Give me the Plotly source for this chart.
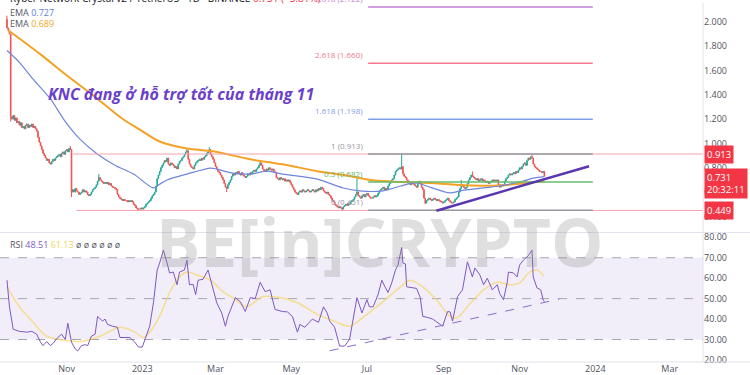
import pandas as pd
import plotly.graph_objects as go

# ---------------- data ----------------
START = "2022-09-14"          # date of first daily candle
FIRST_OPEN = 2.02

close = [
    1.95, 1.93, 1.90, 1.22, 1.20, 1.23, 1.19, 1.21, 1.17, 1.18,
    1.15, 1.17, 1.13, 1.14, 1.12, 1.15, 1.16, 1.13, 1.15, 1.14,
    1.16, 1.13, 1.14, 1.12, 1.10, 1.05, 1.01, 0.98, 0.95, 0.92,
    0.90, 0.88, 0.86, 0.87, 0.84, 0.83, 0.85, 0.87, 0.86, 0.88,
    0.89, 0.90, 0.91, 0.89, 0.92, 0.93, 0.91, 0.94, 0.95, 0.93,
    0.96, 0.95, 0.60, 0.62, 0.60, 0.63, 0.61, 0.60, 0.58, 0.59,
    0.60, 0.62, 0.60, 0.61, 0.60, 0.58, 0.57, 0.58, 0.60, 0.62,
    0.63, 0.64, 0.66, 0.69, 0.72, 0.70, 0.69, 0.68, 0.67, 0.68,
    0.67, 0.68, 0.66, 0.67, 0.65, 0.64, 0.64, 0.63, 0.62, 0.58,
    0.56, 0.55, 0.54, 0.53, 0.54, 0.53, 0.53, 0.52, 0.53, 0.52,
    0.53, 0.52, 0.50, 0.49, 0.47, 0.46, 0.46, 0.46, 0.47, 0.46,
    0.47, 0.48, 0.50, 0.51, 0.52, 0.53, 0.55, 0.57, 0.58, 0.60,
    0.65, 0.71, 0.74, 0.77, 0.80, 0.82, 0.84, 0.86, 0.85, 0.88,
    0.83, 0.82, 0.84, 0.83, 0.82, 0.80, 0.81, 0.79, 0.83, 0.85,
    0.86, 0.88, 0.89, 0.91, 0.93, 0.94, 0.87, 0.83, 0.81, 0.80,
    0.79, 0.82, 0.84, 0.85, 0.86, 0.87, 0.86, 0.88, 0.87, 0.89,
    0.90, 0.92, 0.93, 0.95, 0.91, 0.89, 0.87, 0.84, 0.81, 0.79,
    0.77, 0.76, 0.74, 0.72, 0.70, 0.67, 0.64, 0.63, 0.66, 0.68,
    0.70, 0.73, 0.75, 0.74, 0.76, 0.75, 0.77, 0.75, 0.74, 0.76,
    0.74, 0.73, 0.72, 0.73, 0.75, 0.74, 0.76, 0.75, 0.77, 0.78,
    0.77, 0.79, 0.80, 0.82, 0.84, 0.82, 0.79, 0.78, 0.77, 0.79,
    0.78, 0.80, 0.79, 0.78, 0.79, 0.77, 0.76, 0.72, 0.71, 0.70,
    0.72, 0.71, 0.70, 0.71, 0.69, 0.70, 0.69, 0.70, 0.68, 0.66,
    0.64, 0.62, 0.60, 0.59, 0.58, 0.60, 0.61, 0.60, 0.62, 0.61,
    0.60, 0.61, 0.62, 0.61, 0.60, 0.61, 0.62, 0.61, 0.60, 0.62,
    0.61, 0.63, 0.62, 0.64, 0.63, 0.61, 0.60, 0.59, 0.60, 0.58,
    0.57, 0.55, 0.53, 0.52, 0.50, 0.49, 0.48, 0.47, 0.48, 0.47,
    0.46, 0.48, 0.49, 0.50, 0.49, 0.51, 0.50, 0.52, 0.53, 0.54,
    0.56, 0.58, 0.60, 0.57, 0.56, 0.55, 0.57, 0.58, 0.56, 0.58,
    0.59, 0.57, 0.56, 0.55, 0.55, 0.56, 0.57, 0.56, 0.57, 0.59,
    0.61, 0.62, 0.63, 0.64, 0.62, 0.63, 0.62, 0.65, 0.67, 0.68,
    0.70, 0.71, 0.74, 0.77, 0.78, 0.79, 0.80, 0.79, 0.81, 0.75,
    0.73, 0.72, 0.70, 0.69, 0.67, 0.66, 0.68, 0.67, 0.66, 0.65,
    0.64, 0.67, 0.69, 0.68, 0.64, 0.62, 0.55, 0.51, 0.53, 0.54,
    0.55, 0.54, 0.53, 0.54, 0.55, 0.54, 0.53, 0.54, 0.53, 0.52,
    0.52, 0.51, 0.52, 0.53, 0.54, 0.55, 0.53, 0.52, 0.51, 0.51,
    0.52, 0.54, 0.55, 0.56, 0.60, 0.63, 0.66, 0.65, 0.64, 0.63,
    0.64, 0.67, 0.70, 0.72, 0.74, 0.73, 0.72, 0.71, 0.70, 0.71,
    0.69, 0.70, 0.71, 0.69, 0.70, 0.69, 0.68, 0.69, 0.67, 0.68,
    0.69, 0.70, 0.69, 0.70, 0.69, 0.70, 0.66, 0.64, 0.66, 0.65,
    0.66, 0.69, 0.71, 0.72, 0.74, 0.75, 0.74, 0.75, 0.76, 0.75,
    0.77, 0.76, 0.78, 0.80, 0.79, 0.81, 0.83, 0.84, 0.82, 0.86,
    0.88, 0.87, 0.89, 0.88, 0.83, 0.81, 0.80, 0.79, 0.78, 0.77,
    0.77, 0.76, 0.77, 0.731,
]
# wick extremes (day index -> price) where a visible wick sticks out
high_spikes = {0: 2.05, 51: 0.98, 74: 0.75, 145: 0.96, 163: 0.97, 204: 0.86,
               282: 0.715, 318: 0.913, 366: 0.70, 375: 0.77, 423: 0.913}
low_spikes = {3: 1.18, 52: 0.56, 106: 0.449, 177: 0.60, 270: 0.451, 337: 0.50}

ema_fast_day = [0, 10, 21, 35, 47, 59, 73, 87, 102, 118, 123, 129, 145, 164, 169, 182, 196,
                210, 222, 250, 271, 284, 303, 317, 330, 338, 357, 365, 384, 397, 416, 424, 433]
ema_fast_val = [1.764, 1.667, 1.528, 1.366, 1.179, 1.033, 0.911, 0.821, 0.748, 0.634, 0.665,
                0.700, 0.748, 0.797, 0.789, 0.756, 0.748, 0.772, 0.748, 0.707, 0.634, 0.610,
                0.610, 0.650, 0.675, 0.650, 0.593, 0.610, 0.634, 0.650, 0.691, 0.715, 0.727]

ema_slow_day = [1, 27, 48, 71, 93, 107, 123, 145, 166, 196, 222, 250, 276, 293, 317, 343,
                363, 384, 397, 413, 424, 433]
ema_slow_val = [1.930, 1.732, 1.561, 1.382, 1.203, 1.114, 1.016, 0.959, 0.935, 0.870, 0.829,
                0.772, 0.732, 0.699, 0.683, 0.675, 0.659, 0.652, 0.655, 0.668, 0.680, 0.689]

rsi_day = [0, 2, 5, 10, 16, 20, 24, 27, 29, 32, 35, 37, 41, 44, 47, 49, 52, 55, 57, 60, 63, 65,
           68, 71, 73, 77, 79, 81, 85, 89, 91, 95, 99, 103, 106, 109, 111, 115, 118, 121, 123,
           126, 129, 131, 134, 137, 139, 143, 145, 147, 150, 152, 154, 158, 162, 165, 169, 173,
           176, 178, 181, 184, 188, 192, 196, 200, 204, 208, 212, 216, 222, 226, 230, 234, 236,
           240, 246, 251, 255, 258, 260, 264, 268, 272, 276, 279, 282, 286, 290, 292, 295, 299,
           302, 305, 307, 310, 313, 315, 318, 319, 321, 322, 326, 330, 333, 335, 339, 343, 349,
           351, 355, 357, 359, 363, 367, 371, 375, 377, 381, 384, 387, 391, 395, 397, 400, 403,
           404, 408, 411, 413, 416, 420, 423, 424, 427, 430, 432, 433]
rsi_val = [59, 46, 35, 34, 33.6, 34, 32.6, 28.7, 27, 29, 27, 28, 31, 32.6, 30, 38, 28.7, 25.4,
           24.4, 27, 27.5, 27, 31.6, 32.6, 41.3, 39, 40, 37.4, 36.5, 36, 31, 31, 31, 28.7, 26.3,
           26.3, 30, 36.5, 48, 64, 67.4, 73.7, 67.4, 62.6, 63, 56.8, 63, 64, 68.8, 56.8, 57, 52,
           59, 59.5, 64, 57.7, 48, 43, 36.5, 41.3, 46, 50.5, 48.5, 43.7, 50.5, 50, 58, 53.4,
           54.3, 44.7, 43.7, 43.5, 41.3, 33.6, 37.4, 36, 40, 38.4, 46, 43, 39, 36, 26.8, 26.8,
           30, 41.3, 50.5, 43, 49.5, 46, 46, 52, 59, 55.3, 53, 57.7, 64, 66.4, 75, 67.4, 67,
           55.8, 55.3, 55, 50.5, 41.3, 40.8, 40, 37.4, 36.5, 43.7, 43.5, 39, 51, 54.3, 68, 60.6,
           65, 61.6, 56.8, 60, 54.3, 56.8, 52.5, 49.5, 57.7, 63, 62.6, 60.6, 66.4, 68.8, 71,
           73.7, 60.6, 55.3, 54.3, 49.5, 48.51]

rsi_ma_day = [0, 10, 21, 32, 43, 59, 75, 91, 102, 110, 115, 123, 131, 139, 145, 153, 164, 174,
              182, 193, 206, 220, 234, 250, 266, 276, 290, 303, 317, 325, 335, 346, 357, 363,
              371, 384, 395, 405, 413, 421, 427, 432, 433]
rsi_ma_val = [55.8, 46, 38.4, 31.6, 30, 29, 31.6, 36, 34, 31, 33.6, 41.3, 53, 60.6, 63, 61.6,
              59, 53.4, 50.5, 46, 51, 50.5, 48, 42.3, 38.4, 36.5, 42.3, 48.5, 55.8, 59, 55.8,
              49.5, 41.3, 40.8, 46, 54.3, 58, 56.8, 57.7, 63, 64, 61.6, 61.13]

fib_ratio = ["0", "0.5", "1", "1.618", "2.618", "3.618"]
fib_price = [0.451, 0.682, 0.913, 1.198, 1.660, 2.122]
fib_color = ["#9598a1", "#66bb6a", "#9598a1", "#7f9ee8", "#f27a8c", "#c07fd6"]
fib_span = ["2023-07-02", "2023-12-30"]

hline_price = [0.913, 0.449]
hline_start = ["2022-11-06", "2022-11-09"]

trend_price_x = ["2023-08-26", "2023-12-27"]
trend_price_y = [0.447, 0.813]
trend_rsi_x = ["2023-06-01", "2023-12-03"]
trend_rsi_y = [24.5, 49.8]

x_tick_dates = ["2022-11-01", "2023-01-01", "2023-03-01", "2023-05-01", "2023-07-01",
                "2023-09-01", "2023-11-01", "2024-01-01", "2024-03-01"]
x_tick_text = ["Nov", "2023", "Mar", "May", "Jul", "Sep", "Nov", "2024", "Mar"]
price_ticks = [0.4, 0.6, 0.8, 1.0, 1.2, 1.4, 1.6, 1.8, 2.0]
rsi_ticks = [20, 30, 40, 50, 60, 70, 80]
rsi_levels = [30, 50, 70]

last_price = 0.731
countdown = "20:32:11"
ema_fast_last, ema_slow_last = 0.727, 0.689
rsi_last, rsi_ma_last = 48.51, 61.13

X_RANGE = ["2022-09-08 09:00", "2024-03-27 19:00"]
PRICE_RANGE = [0.2764, 2.1545]
RSI_RANGE = [19.0, 81.9]

# ---------------- build ----------------
start = pd.Timestamp(START)
day = lambda i: start + pd.Timedelta(days=i)

dates = pd.date_range(start, periods=len(close), freq="D")
opens = [FIRST_OPEN] + close[:-1]
highs = [max(o, c) for o, c in zip(opens, close)]
lows = [min(o, c) for o, c in zip(opens, close)]
for k, v in high_spikes.items():
    highs[k] = v
for k, v in low_spikes.items():
    lows[k] = v

W, H = 750, 375
ML, MR, MT, MB = 0, 47, 0, 12
PW, PH = W - ML - MR, H - MT - MB


def px(x):
    return x / PW


def py(y):
    return (PH - y) / PH


fig = go.Figure()

GREEN, RED = "#26a69a", "#ef5350"
fig.add_trace(go.Candlestick(
    x=dates, open=opens, high=highs, low=lows, close=close,
    xaxis="x2", yaxis="y", whiskerwidth=0,
    increasing=dict(line=dict(color=GREEN, width=1), fillcolor=GREEN),
    decreasing=dict(line=dict(color=RED, width=1), fillcolor=RED),
    showlegend=False, hoverinfo="skip"))

fig.add_trace(go.Scatter(x=[day(i) for i in ema_slow_day], y=ema_slow_val, mode="lines",
                         line=dict(color="#f4a125", width=2, shape="spline", smoothing=0.8),
                         xaxis="x2", yaxis="y", hoverinfo="skip"))
fig.add_trace(go.Scatter(x=[day(i) for i in ema_fast_day], y=ema_fast_val, mode="lines",
                         line=dict(color="#6f86dc", width=1.2, shape="spline", smoothing=0.8),
                         xaxis="x2", yaxis="y", hoverinfo="skip"))

# horizontal rays
for p, s in zip(hline_price, hline_start):
    fig.add_trace(go.Scatter(x=[s, X_RANGE[1]], y=[p, p], mode="lines",
                             line=dict(color="#f5a3ad", width=1), xaxis="x2", yaxis="y",
                             hoverinfo="skip"))

# fibonacci extension
for r, p, c in zip(fib_ratio, fib_price, fib_color):
    fig.add_trace(go.Scatter(x=fib_span, y=[p, p], mode="lines", line=dict(color=c, width=1.5),
                             xaxis="x2", yaxis="y", hoverinfo="skip"))

# trend line (price)
fig.add_trace(go.Scatter(x=trend_price_x, y=trend_price_y, mode="lines",
                         line=dict(color="#5a36b0", width=2.5), xaxis="x2", yaxis="y",
                         hoverinfo="skip"))

# RSI
fig.add_trace(go.Scatter(x=[day(i) for i in rsi_ma_day], y=rsi_ma_val, mode="lines",
                         line=dict(color="rgba(245,215,110,0.75)", width=1.5, shape="spline",
                                   smoothing=0.8),
                         xaxis="x", yaxis="y2", hoverinfo="skip"))
fig.add_trace(go.Scatter(x=[day(i) for i in rsi_day], y=rsi_val, mode="lines",
                         line=dict(color="#7e57c2", width=1), xaxis="x", yaxis="y2",
                         hoverinfo="skip"))
fig.add_trace(go.Scatter(x=trend_rsi_x, y=trend_rsi_y, mode="lines",
                         line=dict(color="#8a6ccf", width=1, dash="dash"), xaxis="x", yaxis="y2",
                         hoverinfo="skip"))

shapes = [
    dict(type="rect", xref="x domain", yref="y2", x0=0, x1=1, y0=30, y1=70,
         fillcolor="rgba(126,87,194,0.1)", line=dict(width=0), layer="below"),
]
for lv in rsi_levels:
    shapes.append(dict(type="line", xref="x domain", yref="y2", x0=0, x1=1, y0=lv, y1=lv,
                       line=dict(color="#a3a6af", width=1, dash="dash"), layer="below"))
# pane separator, bottom line, right axis border
shapes += [
    dict(type="line", xref="paper", yref="paper", x0=0, x1=W / PW, y0=py(232), y1=py(232),
         line=dict(color="#e0e3eb", width=1)),
    dict(type="line", xref="paper", yref="paper", x0=0, x1=W / PW, y0=0, y1=0,
         line=dict(color="#e0e3eb", width=1)),
    dict(type="line", xref="paper", yref="paper", x0=1, x1=1, y0=0, y1=1,
         line=dict(color="#e0e3eb", width=1)),
]

FONT = "Open Sans"
ann = []
# top header (mostly cut off)
ann.append(dict(xref="paper", yref="paper", x=px(8), y=py(-5), xanchor="left", yanchor="middle",
                showarrow=False, font=dict(family=FONT, size=10, color="#131722"),
                text="Kyber Network Crystal v2 / TetherUS · 1D · BINANCE "
                     "<span style='color:#f23645'>0.731 (−3.81%)</span>"))
ann.append(dict(xref="paper", yref="paper", x=px(8), y=py(10), xanchor="left", yanchor="middle",
                showarrow=False, font=dict(family=FONT, size=9, color="#555a66"),
                text=f"EMA <span style='color:#5b7fe0'>{ema_fast_last:.3f}</span>"))
ann.append(dict(xref="paper", yref="paper", x=px(8), y=py(21), xanchor="left", yanchor="middle",
                showarrow=False, font=dict(family=FONT, size=9, color="#555a66"),
                text=f"EMA <span style='color:#f5a623'>{ema_slow_last:.3f}</span>"))
# title
ann.append(dict(xref="paper", yref="paper", x=px(46), y=py(92), xanchor="left", yanchor="middle",
                showarrow=False, font=dict(family=FONT, size=16, color="#6b3fcb"),
                text="<b><i>KNC đang ở hỗ trợ tốt của tháng 11</i></b>"))
# watermark
ann.append(dict(xref="paper", yref="paper", x=px(380), y=py(241), xanchor="center",
                yanchor="middle", showarrow=False,
                font=dict(family=FONT, size=66, color="rgba(140,140,140,0.28)"),
                text="<b>BE[in]CRYPTO</b>"))
# RSI legend
ann.append(dict(xref="paper", yref="paper", x=px(8), y=py(244), xanchor="left", yanchor="middle",
                showarrow=False, font=dict(family=FONT, size=9, color="#555a66"),
                text=f"RSI <span style='color:#7e57c2'>{rsi_last:.2f}</span> "
                     f"<span style='color:#f2d35b'>{rsi_ma_last:.2f}</span> ø ø ø ø ø ø"))
# fib labels
for r, p, c in zip(fib_ratio, fib_price, fib_color):
    ann.append(dict(xref="x2", yref="y", x=fib_span[0], y=p, xanchor="right", yanchor="bottom",
                    xshift=-3, yshift=1, showarrow=False,
                    font=dict(family=FONT, size=8, color=c), text=f"{r} ({p:.3f})"))
# price labels on the axis
for p in hline_price:
    ann.append(dict(xref="paper", yref="y", x=1, y=p, xanchor="left", yanchor="middle",
                    xshift=1, showarrow=False, bgcolor="#f23645", borderpad=2,
                    font=dict(family=FONT, size=9.5, color="white"), text=f"{p:.3f}"))
ann.append(dict(xref="paper", yref="y", x=1, y=last_price, xanchor="left", yanchor="top",
                xshift=1, yshift=8, showarrow=False, bgcolor="#f23645", borderpad=2,
                align="left", font=dict(family=FONT, size=9.5, color="white"),
                text=f"{last_price:.3f}<br>{countdown}"))

fig.update_layout(
    width=W, height=H, margin=dict(l=ML, r=MR, t=MT, b=MB),
    paper_bgcolor="white", plot_bgcolor="white", showlegend=False,
    font=dict(family=FONT, size=9, color="#50535e"),
    xaxis=dict(domain=[0, 1], anchor="y2", type="date", range=X_RANGE,
               tickvals=x_tick_dates, ticktext=x_tick_text, tickfont=dict(size=9),
               showgrid=False, zeroline=False, showline=False, ticks="",
               rangeslider=dict(visible=False)),
    xaxis2=dict(domain=[0, 1], anchor="y", type="date", matches="x", showticklabels=False,
                showgrid=False, zeroline=False, ticks="", rangeslider=dict(visible=False)),
    yaxis=dict(domain=[py(231), 1], anchor="x2", side="right", range=PRICE_RANGE,
               tickvals=price_ticks, ticktext=[f"{v:.3f}" for v in price_ticks],
               showgrid=False, zeroline=False, ticks="", tickfont=dict(size=9)),
    yaxis2=dict(domain=[0, py(233)], anchor="x", side="right", range=RSI_RANGE,
                tickvals=rsi_ticks, ticktext=[f"{v:.2f}" for v in rsi_ticks],
                showgrid=False, zeroline=False, ticks="", tickfont=dict(size=9)),
    shapes=shapes, annotations=ann,
)

fig.write_html("out.html")
